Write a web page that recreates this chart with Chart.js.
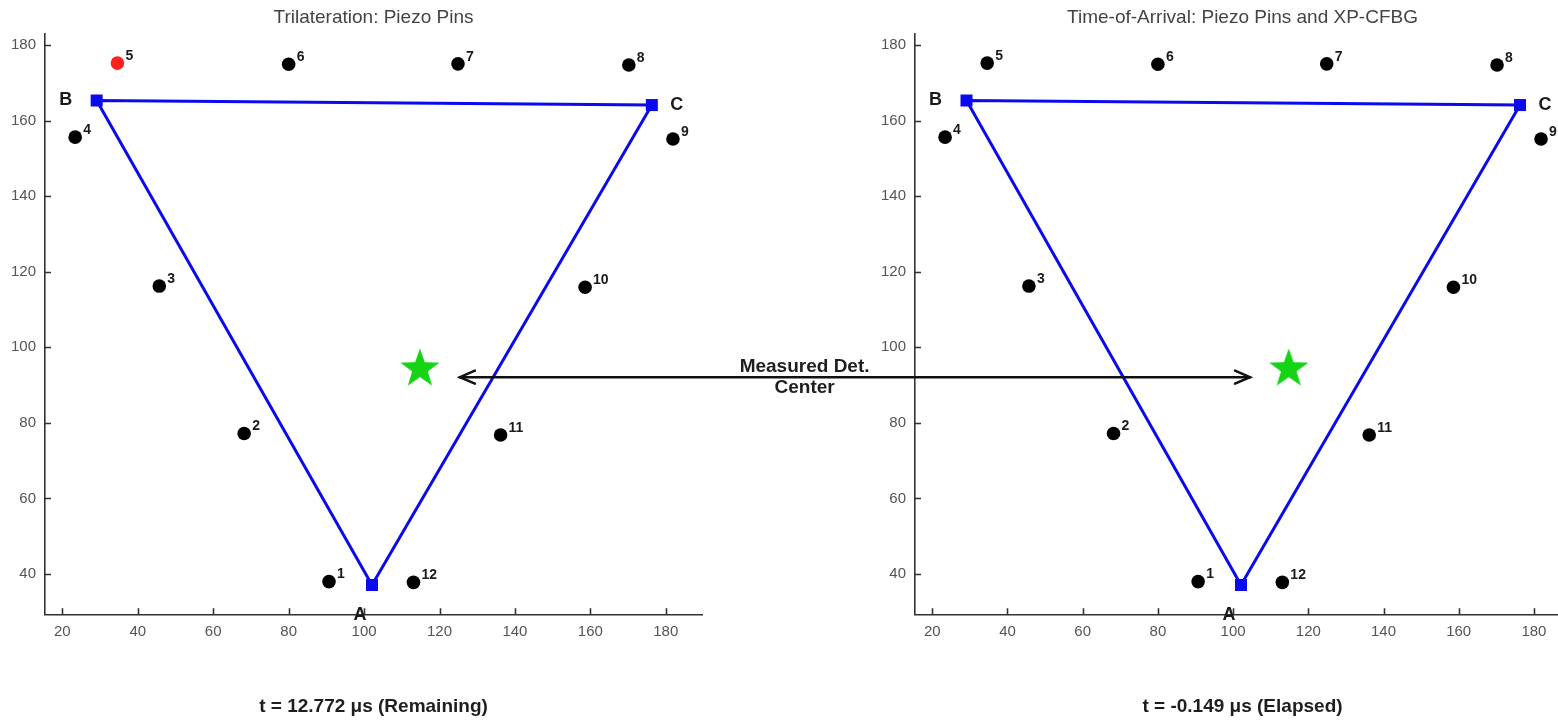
<!DOCTYPE html>
<html>
<head>
<meta charset="utf-8">
<script src="https://cdn.jsdelivr.net/npm/chart.js@4.4.1/dist/chart.umd.min.js"></script>
<style>
html,body{margin:0;padding:0;background:#fff;overflow:hidden;width:1558px;height:722px;}
#wrap{position:relative;width:1558px;height:722px;overflow:hidden;background:#fff;}
.layer{position:absolute;left:0;top:0;width:1600px;height:722px;}
canvas{display:block;}
</style>
</head>
<body>
<div id="wrap">
  <div class="layer"><canvas id="leftChart" width="1600" height="722"></canvas></div>
  <div class="layer"><canvas id="rightChart" width="1600" height="722"></canvas></div>
</div>
<script>
// ---------------- data ----------------
const pinNames = ['1','2','3','4','5','6','7','8','9','10','11','12'];
const pinX = [90.7, 68.2, 45.7, 23.4, 34.6, 80.0, 124.9, 170.2, 181.9, 158.6, 136.2, 113.1];
const pinY = [38.0, 77.2, 116.2, 155.6, 175.2, 174.9, 175.0, 174.7, 155.1, 115.9, 76.8, 37.8];

const vertexNames = ['A', 'B', 'C'];
const vertexX = [102.1, 29.1, 176.3];
const vertexY = [37.1, 165.3, 164.1];

const centerX = [114.8];
const centerY = [94.3];

const leftHighlightPin = '5';   // pin marked in red on the left panel

const xTicks = [20, 40, 60, 80, 100, 120, 140, 160, 180];
const yTicks = [40, 60, 80, 100, 120, 140, 160, 180];
const xRange = [15.4, 189.6];
const yRange = [29.35, 182.9];

const titles = ['Trilateration: Piezo Pins', 'Time-of-Arrival: Piezo Pins and XP-CFBG'];
const captions = ['t = 12.772 \u03bcs (Remaining)', 't = -0.149 \u03bcs (Elapsed)'];

const arrowLabel = ['Measured Det.', 'Center'];
const arrowY = 92.1;          // data y of the double arrow
const arrowTailX = 125.4;     // left panel data x
const arrowTipX = 104.5;      // right panel data x
const arrowLabelX = 216.8;    // left panel data x of label centre
const arrowLabelY = [94.8, 89.2];

// ---------------- styling ----------------
const FONT = "'Liberation Sans', Arial, Helvetica, sans-serif";
Chart.defaults.font.family = FONT;
const BLUE = '#0a0af0';
const AXIS = '#333333';

function makeStar(R, color) {
  const c = document.createElement('canvas');
  const s = Math.ceil(R * 2 + 2);
  c.width = s; c.height = s;
  const g = c.getContext('2d');
  const cx = s / 2, cy = s / 2, r = R * 0.40;
  g.beginPath();
  for (let i = 0; i < 10; i++) {
    const rad = i % 2 === 0 ? R : r;
    const a = -Math.PI / 2 + i * Math.PI / 5;
    const px = cx + rad * Math.cos(a), py = cy + rad * Math.sin(a);
    if (i === 0) g.moveTo(px, py); else g.lineTo(px, py);
  }
  g.closePath();
  g.fillStyle = color;
  g.fill();
  return c;
}
const starImg = makeStar(20.6, '#14d414');

// inward tick marks on the left and bottom spines
const innerTicksPlugin = {
  id: 'innerTicks',
  afterDraw(chart) {
    const {ctx, chartArea} = chart;
    const x = chart.scales.x, y = chart.scales.y;
    ctx.save();
    ctx.strokeStyle = AXIS;
    ctx.lineWidth = 1.6;
    ctx.beginPath();
    xTicks.forEach(v => {
      const px = Math.round(x.getPixelForValue(v)) + 0.5;
      ctx.moveTo(px, chartArea.bottom);
      ctx.lineTo(px, chartArea.bottom - 6);
    });
    yTicks.forEach(v => {
      const py = Math.round(y.getPixelForValue(v)) + 0.5;
      ctx.moveTo(chartArea.left, py);
      ctx.lineTo(chartArea.left + 6, py);
    });
    ctx.stroke();
    ctx.restore();
  }
};

const labelPlugin = {
  id: 'pinLabels',
  afterDatasetsDraw(chart) {
    const {ctx} = chart;
    const x = chart.scales.x, y = chart.scales.y;
    ctx.save();
    ctx.fillStyle = '#1a1a1a';
    ctx.textBaseline = 'middle';
    ctx.textAlign = 'left';
    ctx.font = 'bold 14px ' + FONT;
    pinNames.forEach((n, i) => {
      ctx.fillText(n, x.getPixelForValue(pinX[i]) + 8, y.getPixelForValue(pinY[i]) - 7);
    });
    ctx.font = 'bold 18px ' + FONT;
    ctx.textAlign = 'center';
    const offs = [[-12, 30], [-31, 0], [25, 0]];
    vertexNames.forEach((n, i) => {
      ctx.fillText(n, x.getPixelForValue(vertexX[i]) + offs[i][0], y.getPixelForValue(vertexY[i]) + offs[i][1]);
    });
    ctx.restore();
  }
};

let leftChart = null;

const arrowPlugin = {
  id: 'measuredArrow',
  afterDraw(chart) {
    if (!leftChart) return;
    const {ctx} = chart;
    const lx = leftChart.scales.x, ly = leftChart.scales.y;
    const rx = chart.scales.x, ry = chart.scales.y;
    const x0 = lx.getPixelForValue(arrowTailX), y0 = ly.getPixelForValue(arrowY);
    const x1 = rx.getPixelForValue(arrowTipX), y1 = ry.getPixelForValue(arrowY);
    ctx.save();
    ctx.strokeStyle = '#111';
    ctx.lineWidth = 2.5;
    ctx.lineCap = 'round';
    ctx.beginPath();
    ctx.moveTo(x0, y0); ctx.lineTo(x1, y1);
    ctx.stroke();
    const hl = 15, hw = 6.5;
    ctx.beginPath();
    ctx.moveTo(x0 + hl, y0 - hw); ctx.lineTo(x0, y0); ctx.lineTo(x0 + hl, y0 + hw);
    ctx.moveTo(x1 - hl, y1 - hw); ctx.lineTo(x1, y1); ctx.lineTo(x1 - hl, y1 + hw);
    ctx.stroke();
    ctx.fillStyle = '#1e1e1e';
    ctx.font = 'bold 19px ' + FONT;
    ctx.textAlign = 'center';
    ctx.textBaseline = 'middle';
    const tx = lx.getPixelForValue(arrowLabelX);
    arrowLabel.forEach((t, i) => ctx.fillText(t, tx, ly.getPixelForValue(arrowLabelY[i])));
    ctx.restore();
  }
};

function buildChart(canvasId, idx, padLeft, padRight, extraPlugins) {
  const pinColors = pinNames.map(n => (idx === 0 && n === leftHighlightPin) ? '#ff2020' : '#000000');
  const tri = vertexX.map((vx, i) => ({x: vx, y: vertexY[i]}));
  tri.push({x: vertexX[0], y: vertexY[0]});
  return new Chart(document.getElementById(canvasId), {
    type: 'scatter',
    data: {
      datasets: [
        {
          data: tri,
          showLine: true,
          borderColor: BLUE,
          borderWidth: 3,
          pointStyle: 'rect',
          pointRadius: 8.5,
          pointBackgroundColor: BLUE,
          pointBorderWidth: 0,
          tension: 0,
          clip: false,
          order: 2
        },
        {
          data: pinX.map((px, i) => ({x: px, y: pinY[i]})),
          pointRadius: 6.8,
          pointBackgroundColor: pinColors,
          pointBorderColor: pinColors,
          pointBorderWidth: 0,
          clip: false,
          order: 1
        },
        {
          data: centerX.map((cx, i) => ({x: cx, y: centerY[i]})),
          pointStyle: starImg,
          clip: false,
          order: 0
        }
      ]
    },
    options: {
      responsive: false,
      animation: false,
      events: [],
      layout: {padding: {left: padLeft, right: padRight, top: 0, bottom: 0}},
      plugins: {
        legend: {display: false},
        tooltip: {enabled: false},
        title: {
          display: true, text: titles[idx], fullSize: false, color: '#444',
          font: {size: 19, weight: 'normal', family: FONT},
          padding: {top: 6.6, bottom: 4.6}
        },
        subtitle: {
          display: true, text: captions[idx], position: 'bottom', fullSize: false, color: '#1e1e1e',
          font: {size: 19, weight: 'bold', family: FONT},
          padding: {top: 50.9, bottom: 4}
        }
      },
      scales: {
        x: {
          type: 'linear', position: 'bottom', min: xRange[0], max: xRange[1],
          afterBuildTicks: s => { s.ticks = xTicks.map(v => ({value: v})); },
          afterFit: s => { s.height = 30; },
          grid: {display: false, drawOnChartArea: false, drawTicks: false},
          border: {display: true, color: AXIS, width: 1.6},
          ticks: {color: '#555', font: {size: 15, family: FONT}, padding: 9, maxRotation: 0, autoSkip: false}
        },
        y: {
          type: 'linear', position: 'left', min: yRange[0], max: yRange[1],
          afterBuildTicks: s => { s.ticks = yTicks.map(v => ({value: v})); },
          afterFit: s => { s.width = 33; },
          grid: {display: false, drawOnChartArea: false, drawTicks: false},
          border: {display: true, color: AXIS, width: 1.6},
          ticks: {color: '#555', font: {size: 15, family: FONT}, padding: 9, autoSkip: false}
        }
      }
    },
    plugins: [innerTicksPlugin, labelPlugin].concat(extraPlugins || [])
  });
}

leftChart = buildChart('leftChart', 0, 12, 898, []);
const rightChart = buildChart('rightChart', 1, 882, 30, [arrowPlugin]);
</script>
</body>
</html>
